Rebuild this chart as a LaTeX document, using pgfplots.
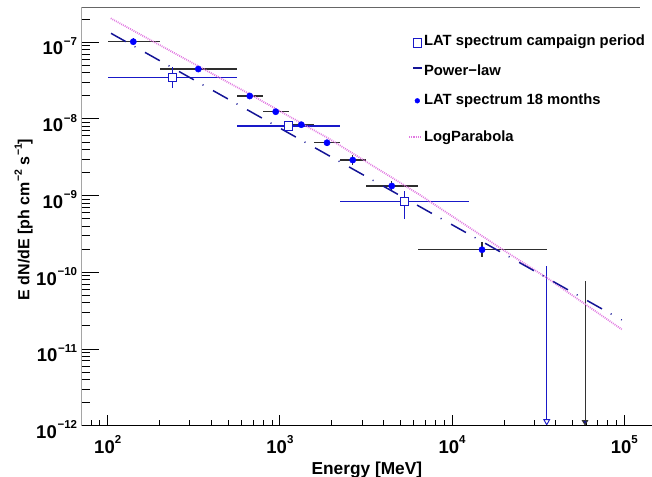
\documentclass[border=0pt]{standalone}
\usepackage{fontspec}
\setmainfont{Liberation Sans}
\usepackage{pgfplots}
\pgfplotsset{compat=1.18}
\usetikzlibrary{arrows.meta}
\definecolor{camp}{RGB}{25,25,200}
\definecolor{plaw}{RGB}{20,20,150}
\definecolor{lpar}{RGB}{225,120,225}
\definecolor{dotblue}{RGB}{0,0,255}
\newcommand{\sx}[1]{\raisebox{10bp}{\fontsize{11.5bp}{12bp}\selectfont #1}}
\newcommand{\sy}[1]{\raisebox{9.5bp}{\fontsize{11.5bp}{12bp}\selectfont\kern0.8bp #1}}
\newcommand{\supl}[1]{\raisebox{7.5bp}{\fontsize{10.5bp}{11bp}\selectfont\kern0.4bp #1}}
\begin{document}
\begin{tikzpicture}
\path[use as bounding box] (-81.7bp,-51.3bp) rectangle (570.3bp,425.7bp);
\begin{axis}[
  at={(0,0)}, anchor=south west,
  scale only axis, width=570.3bp, height=418.4bp,
  xmode=log, ymode=log,
  xmin=70.63, xmax=144800, ymin=1e-12, ymax=2.851e-7,
  axis line style={draw=none},
  tick pos=left, tick align=inside,
  tick style={black, line width=0.9bp},
  tick label style={font=\fontsize{18.5bp}{20bp}\selectfont\bfseries},
  major tick length=11bp, minor tick length=5.5bp,
  xtick={100,1000,10000,100000},
  xticklabels={10\sx{2},10\sx{3},10\sx{4},10\sx{5}},
  ytick=\empty, yminorticks=false,
  minor xtick={80,90,200,300,400,500,600,700,800,900,2000,3000,4000,5000,6000,7000,8000,9000,20000,30000,40000,50000,60000,70000,80000,90000},
  xticklabel style={anchor=base, inner sep=0pt, yshift=-27.6bp},
  every axis x label/.style={at={(rel axis cs:0.5,0)}, yshift=-48.3bp, anchor=base,
    font=\fontsize{17.3bp}{19bp}\selectfont\bfseries},
  xlabel={Energy [MeV]},
  legend style={at={(0.5722,0.9329)}, anchor=north west, draw=none, fill=none,
    inner sep=0pt, outer sep=0pt, row sep=15.4bp, column sep=0pt,
    font=\fontsize{14.8bp}{16bp}\selectfont\bfseries, cells={anchor=west},
    nodes={inner sep=0pt, text height=10.6bp, text depth=3.2bp}},
]
% legend images
\addlegendimage{legend image code/.code={\path[draw=none,fill=none] (0bp,-5bp) rectangle (16bp,5bp);
  \draw[camp, line width=1.2bp, fill=white] (5.35bp,-4.85bp) rectangle (13.65bp,3.45bp);}}
\addlegendentry{LAT spectrum campaign period}
\addlegendimage{legend image code/.code={\path[draw=none,fill=none] (0bp,-5bp) rectangle (16bp,5bp);
  \draw[plaw, line width=1.3bp] (5bp,3.6bp) -- (14bp,3.6bp);}}
\addlegendentry{Power−law}
\addlegendimage{legend image code/.code={\path[draw=none,fill=none] (0bp,-5bp) rectangle (16bp,5bp);
  \fill[dotblue] (9.3bp,-0.1bp) circle (2.4bp);}}
\addlegendentry{LAT spectrum 18 months}
\addlegendimage{legend image code/.code={\path[draw=none,fill=none] (0bp,-5bp) rectangle (16bp,5bp);
  \draw[draw=lpar, line width=2bp, dash pattern=on 1.2bp off 1bp] (1bp,-6.9bp) -- (14bp,-6.9bp);}}
\addlegendentry{\raisebox{-8.2bp}{LogParabola}}
% LAT spectrum 18 months
\addplot[forget plot, only marks, mark=*, mark size=3.15bp,
  mark options={fill=dotblue, draw=dotblue, solid},
  error bars/.cd, x dir=both, x explicit, y dir=both, y explicit,
  error mark=none, error bar style={black!82, line width=1.5bp}]
  table[x=E, y=F, x error plus=exp, x error minus=exm, y error plus=eyp, y error minus=eym] {
E F exm exp eym eyp
140.8 1.015e-7 40.8 59.2 1.0e-8 1.1e-8
335.8 4.47e-8 135.8 226.2 3.0e-9 3.0e-9
667.7 1.99e-8 105.7 126.3 1.5e-9 1.5e-9
945.3 1.241e-8 151.3 179.7 9e-10 9e-10
1331 8.40e-9 206 254 6e-10 6e-10
1877 4.89e-9 292 357 4.5e-10 4.5e-10
2647 2.91e-9 413 515 4.0e-10 4.5e-10
4459 1.334e-9 1297 1851 1.9e-10 2.2e-10
14920 1.971e-10 8610 20480 4.0e-11 5.0e-11
};
% LAT spectrum campaign period
\addplot[forget plot, only marks, mark=square*, mark size=4.15bp,
  mark options={fill=white, draw=camp, line width=1.2bp, solid},
  error bars/.cd, x dir=both, x explicit, y dir=both, y explicit,
  error mark=none, error bar style={camp, line width=1.3bp}]
  table[x=E, y=F, x error plus=exp, x error minus=exm, y error plus=eyp, y error minus=eym] {
E F exm exp eym eyp
238.5 3.445e-8 137.7 322.5 0.939e-8 1.345e-8
1125 8.08e-9 564 1109 8e-10 8e-10
5304 8.32e-10 3070 7231 3.41e-10 3.16e-10
};
% upper limits
\addplot[forget plot, camp, line width=0.9bp, -{Triangle[open, length=6.5bp, width=7bp]}]
  coordinates {(35430,1.208e-10) (35430,1e-12)};
\addplot[forget plot, black!80, line width=1bp, -{Triangle[length=5.5bp, width=6.5bp, fill=plaw]}]
  coordinates {(59130,7.70e-11) (59130,1e-12)};
% LogParabola
\addplot[forget plot, lpar, line width=1.8bp, dash pattern=on 0.9bp off 1.1bp]
  coordinates {(104.1,2.049e-7) (351.5,4.61e-8) (670.7,2.093e-8) (1954,5.42e-9)
    (6510,1.018e-9) (19830,1.953e-10) (35430,8.50e-11) (96580,1.806e-11)};
% Power-law
\addplot[forget plot, plaw, line width=1.5bp, dash pattern=on 17bp off 10bp on 1bp off 11bp]
  coordinates {(104.5,1.306e-7) (96600,2.39e-11)};
\draw[black!60, line width=2bp] (rel axis cs:0,1) -- (rel axis cs:0.979,1);
\draw[black, line width=1.2bp] (rel axis cs:0,1) -- (rel axis cs:0,0) -- (rel axis cs:1,0);
\end{axis}
\begin{axis}[
  at={(0,0)}, anchor=south west,
  scale only axis, width=570.3bp, height=418.4bp,
  xmode=log, ymode=log,
  xmin=70.63, xmax=144800, ymin=1e-12, ymax=2.851e-7,
  axis line style={draw=none},
  tick pos=left, tick align=inside,
  tick style={black, line width=0.9bp},
  tick label style={font=\fontsize{18.5bp}{20bp}\selectfont\bfseries},
  xtick=\empty, xminorticks=false,
  major tick length=17bp, minor tick length=8.5bp,
  ytick={1e-12,1e-11,1e-10,1e-9,1e-8,1e-7},
  yticklabels={10\sy{−12},10\sy{−11},10\sy{−10},10\sy{−9},10\sy{−8},10\sy{−7}},
  minor ytick={2e-12,3e-12,4e-12,5e-12,6e-12,7e-12,8e-12,9e-12,2e-11,3e-11,4e-11,5e-11,6e-11,7e-11,8e-11,9e-11,2e-10,3e-10,4e-10,5e-10,6e-10,7e-10,8e-10,9e-10,2e-9,3e-9,4e-9,5e-9,6e-9,7e-9,8e-9,9e-9,2e-8,3e-8,4e-8,5e-8,6e-8,7e-8,8e-8,9e-8,2e-7},
  yticklabel style={anchor=base east, inner sep=0pt, xshift=-4.4bp, yshift=-12.7bp},
  every axis y label/.style={at={(rel axis cs:0,0.5)}, xshift=-52.4bp, yshift=-3bp, rotate=90, anchor=base,
    font=\fontsize{16bp}{18bp}\selectfont\bfseries},
  ylabel={E dN/dE [ph cm\supl{−2} s\supl{−1}]},
]
\addplot[draw=none, forget plot] coordinates {(1000,1e-9)};
\end{axis}
\end{tikzpicture}
\end{document}
